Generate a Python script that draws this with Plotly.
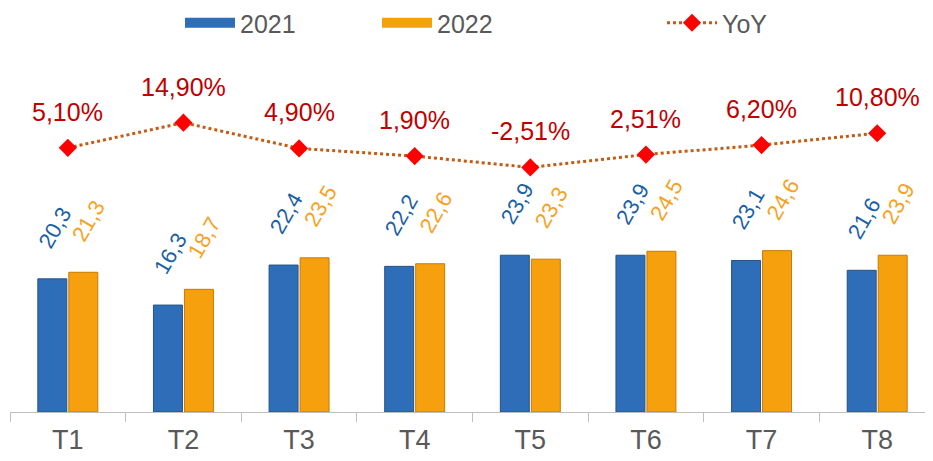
import plotly.graph_objects as go

categories = ["T1", "T2", "T3", "T4", "T5", "T6", "T7", "T8"]
values_2021 = [20.3, 16.3, 22.4, 22.2, 23.9, 23.9, 23.1, 21.6]
values_2022 = [21.3, 18.7, 23.5, 22.6, 23.3, 24.5, 24.6, 23.9]
yoy_pct = [5.10, 14.90, 4.90, 1.90, -2.51, 2.51, 6.20, 10.80]
yoy_labels = ["5,10%", "14,90%", "4,90%", "1,90%", "-2,51%", "2,51%", "6,20%", "10,80%"]

BLUE = "#2E6DB8"
ORANGE = "#F7A00E"
BLUE_TXT = "#1B5FA6"
ORANGE_TXT = "#F5A31F"
RED_TXT = "#C00000"
GREY = "#595959"
FONT = "Liberation Sans, Arial, sans-serif"

def fmt(v):
    return f"{v:.1f}".replace(".", ",")

fig = go.Figure()
fig.add_trace(go.Bar(
    name="2021", x=categories, y=values_2021, showlegend=False,
    marker=dict(color=BLUE, line=dict(color="#24528A", width=1)),
))
fig.add_trace(go.Bar(
    name="2022", x=categories, y=values_2022, showlegend=False,
    marker=dict(color=ORANGE, line=dict(color="#C77A05", width=1)),
))
fig.add_trace(go.Scatter(
    name="YoY", x=categories, y=yoy_pct, yaxis="y2",
    mode="lines+markers", legend="legend3",
    line=dict(color="#C55A11", width=3, dash="dot"),
    marker=dict(symbol="diamond", color="#FF0000", size=14),
))
# legend-only keys for the bar series (wide bar-like keys)
fig.add_trace(go.Scatter(
    name="2021", x=[None], y=[None], mode="lines", legend="legend",
    line=dict(color=BLUE, width=12),
))
fig.add_trace(go.Scatter(
    name="2022", x=[None], y=[None], mode="lines", legend="legend2",
    line=dict(color=ORANGE, width=12),
))

annotations = []
for i, c in enumerate(categories):
    annotations.append(dict(
        x=c, y=values_2021[i], xref="x", yref="y", text=fmt(values_2021[i]),
        showarrow=False, textangle=-60, xanchor="center", yanchor="bottom",
        xshift=-13, yshift=24, font=dict(family=FONT, size=22, color=BLUE_TXT),
    ))
    annotations.append(dict(
        x=c, y=values_2022[i], xref="x", yref="y", text=fmt(values_2022[i]),
        showarrow=False, textangle=-60, xanchor="center", yanchor="bottom",
        xshift=21, yshift=24, font=dict(family=FONT, size=22, color=ORANGE_TXT),
    ))
    annotations.append(dict(
        x=c, y=yoy_pct[i], xref="x", yref="y2", text=yoy_labels[i],
        showarrow=False, xanchor="center", yanchor="middle",
        yshift=36, font=dict(family=FONT, size=25, color=RED_TXT),
    ))

# page body adds ~8px offset; plot area spans fig x 2..927, y 52..404
W, H = 933.0, 461.0
def cx(px):
    return (px - 8) / W
leg_y = 1 - (23 - 8) / H
leg_font = dict(family=FONT, size=25, color=GREY)
leg_common = dict(orientation="h", xanchor="left", yanchor="middle", xref="container",
                  yref="container", y=leg_y, font=leg_font, bgcolor="rgba(0,0,0,0)",
                  itemwidth=50, borderwidth=0)

fig.update_layout(
    width=933, height=461,
    margin=dict(l=2, r=6, t=52, b=57, autoexpand=False),
    paper_bgcolor="white", plot_bgcolor="white",
    barmode="group", bargap=0.464, bargroupgap=0.065,
    font=dict(family=FONT, color=GREY),
    showlegend=True,
    legend=dict(x=cx(180), **leg_common),
    legend2=dict(x=cx(377), **leg_common),
    legend3=dict(x=cx(662), **leg_common),
    xaxis=dict(
        range=[-0.5, 7.5], showgrid=False, showline=True, linecolor="#BFBFBF",
        linewidth=1, ticks="outside", tickson="boundaries", ticklen=9,
        tickcolor="#BFBFBF", tickfont=dict(family=FONT, size=27, color=GREY),
        ticklabelstandoff=4, zeroline=False,
    ),
    yaxis=dict(range=[0, 53.66], visible=False, showgrid=False, zeroline=False),
    yaxis2=dict(range=[-97.7, 39.3], overlaying="y", side="right", visible=False,
                showgrid=False, zeroline=False),
    annotations=annotations,
)

fig.write_html("out.html")
